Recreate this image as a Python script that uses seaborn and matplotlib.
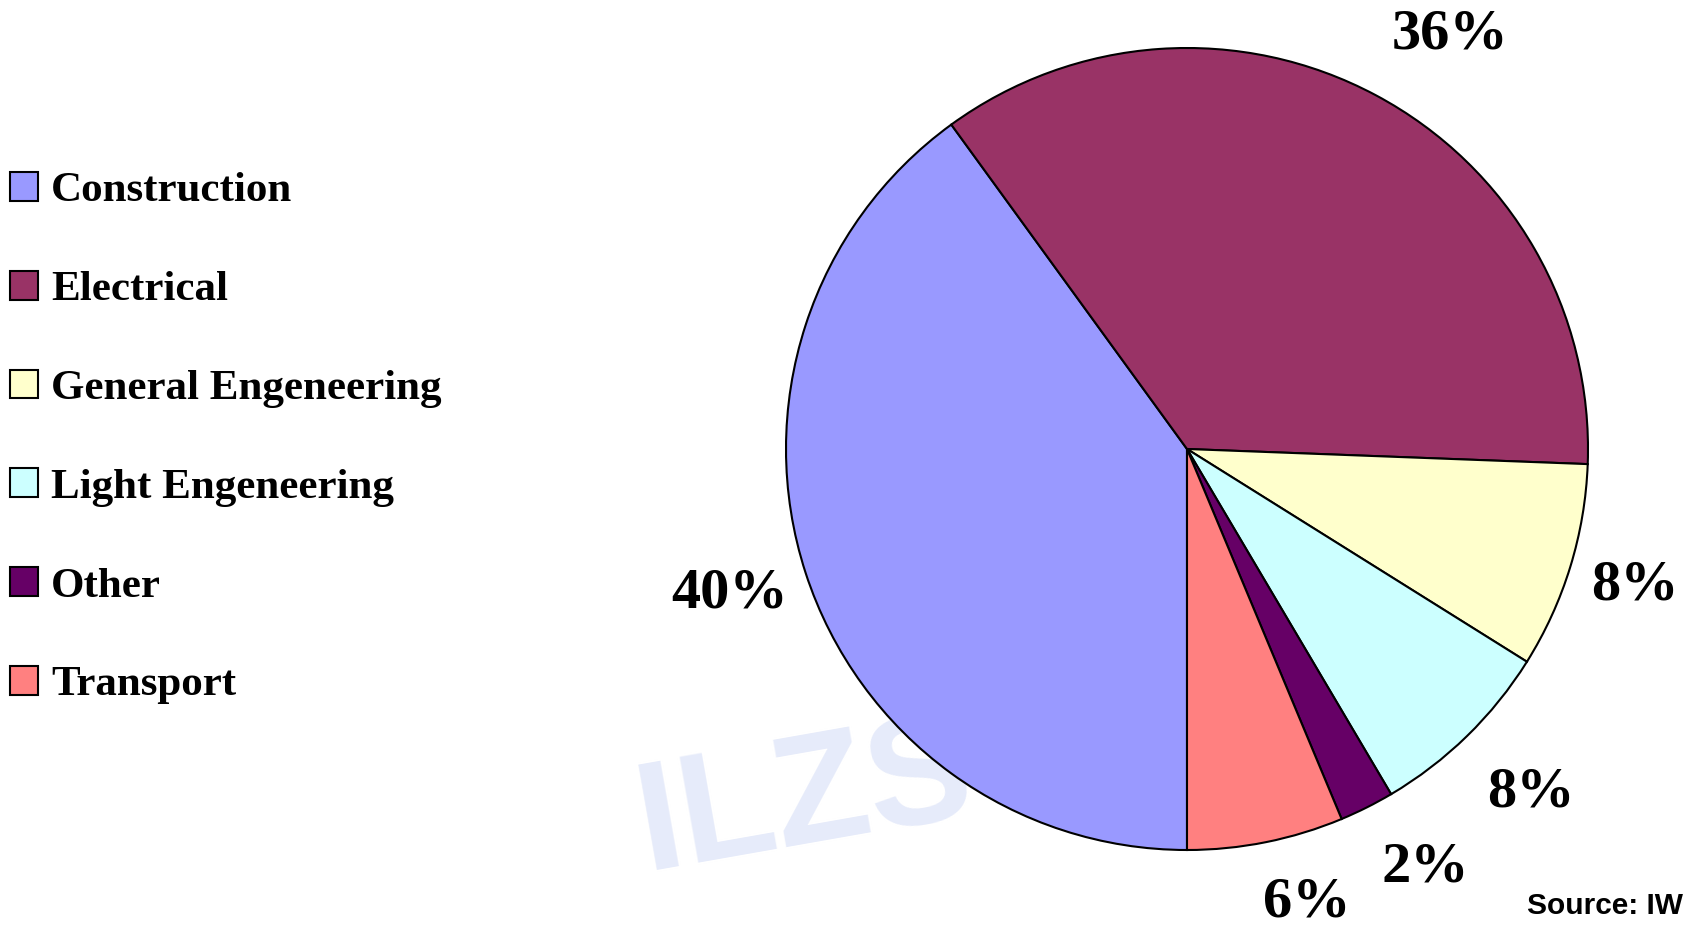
import numpy as np
import matplotlib
matplotlib.use("Agg")
import matplotlib.pyplot as plt
import seaborn as sns

# sector shares (%)
sectors = ["Construction", "Electrical", "General Engeneering",
           "Light Engeneering", "Other", "Transport"]
shares = [40.0, 35.6, 8.3, 7.6, 2.2, 6.3]
sector_colors = ["#9999FF", "#993366", "#FFFFCC", "#CCFFFF", "#660066", "#FF8080"]

# label placement like the original (distance in radii, angular nudge in degrees)
label_dist = [1.197, 1.225, 1.167, 1.213, 1.20, 1.17]
label_nudge = [-0.5, -4.3, 0.1, 0.8, 3.0, 3.4]

sns.set_theme(style="white")
plt.rcParams["font.family"] = ["Liberation Serif", "DejaVu Serif"]
plt.rcParams["text.color"] = "black"

W, H = 1684, 927
fig = plt.figure(figsize=(W / 100, H / 100), dpi=100)
fig.patch.set_facecolor("white")

# faint watermark behind the chart
fig.text(865 / W, 1 - 790 / H, "ILZSG", fontsize=112, color="#e6ebfa",
         fontweight="bold", rotation=10, family="Liberation Sans",
         ha="center", va="center", zorder=0)

# pie axes: centre (1187, 449), radius 401 px
cx, cy, r = 1187, H - 449, 401
ax = fig.add_axes([(cx - r) / W, (cy - r) / H, 2 * r / W, 2 * r / H])
ax.set_zorder(2)
ax.patch.set_alpha(0)
palette = sns.color_palette(sector_colors)

wedges, _, pct_texts = ax.pie(
    shares,
    colors=palette,
    startangle=270,
    counterclock=False,
    radius=1,
    autopct=lambda p: f"{p:.0f}%",
    pctdistance=1.2,
    wedgeprops=dict(edgecolor="black", linewidth=1.5),
    textprops=dict(fontsize=42, fontweight="bold", color="black"),
)
for w, t, d, n in zip(wedges, pct_texts, label_dist, label_nudge):
    mid = np.deg2rad((w.theta1 + w.theta2) / 2 + n)
    t.set_position((d * np.cos(mid), d * np.sin(mid)))
    t.set_ha("center")
    t.set_va("center")

ax.set_xlim(-1, 1)
ax.set_ylim(-1, 1)
ax.set_aspect("equal")
ax.axis("off")

fig.legend(
    wedges, sectors,
    loc="upper left",
    bbox_to_anchor=(0.006, 1 - 172 / H),
    frameon=False,
    prop=dict(family="Liberation Serif", weight="bold", size=31),
    handlelength=0.65,
    handleheight=0.65,
    handletextpad=0.3,
    labelspacing=1.40,
    borderpad=0,
    borderaxespad=0,
)

fig.text(1527 / W, 1 - 906 / H, "Source: IW", fontsize=21.5, fontweight="bold",
         family="Liberation Sans", ha="left", va="center")

fig.savefig("out.png", dpi=100)
